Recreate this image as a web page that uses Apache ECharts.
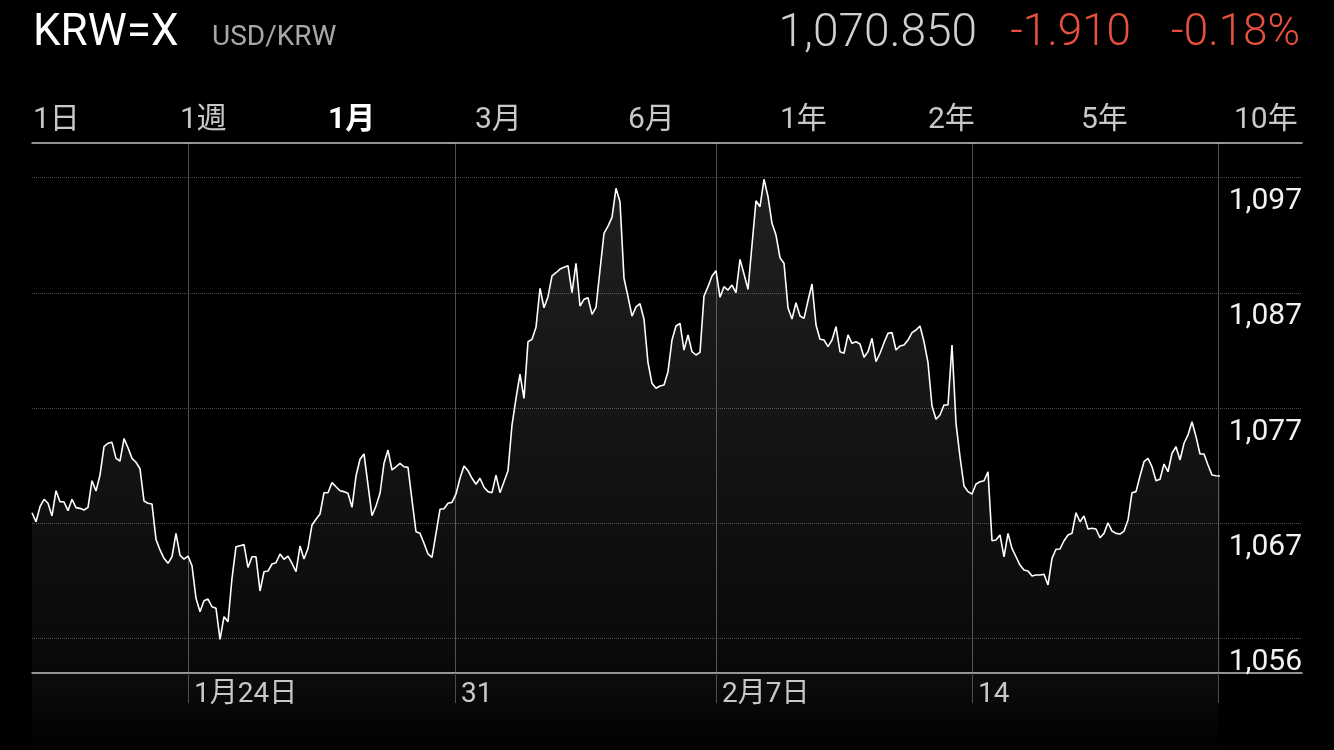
<!DOCTYPE html>
<html>
<head>
<meta charset="utf-8">
<title>KRW=X</title>
<script src="https://cdn.jsdelivr.net/npm/echarts@6/dist/echarts.min.js"></script>
<style>
  html, body { margin: 0; padding: 0; background: #000; }
  #chart { width: 1334px; height: 750px; }
</style>
</head>
<body>
<div id="chart"></div>
<script>
// USD/KRW, one month, a sample every few hours
const rates = [
  1067.91, 1067.13, 1068.43, 1069.08, 1068.73, 1067.63, 1069.82, 1068.87, 1068.84, 1068.09,
  1069.08, 1068.35, 1068.29, 1068.15, 1068.38, 1070.69, 1069.80, 1071.18, 1073.64, 1073.94,
  1074.02, 1072.63, 1072.40, 1074.34, 1073.55, 1072.63, 1072.29, 1071.73, 1068.93, 1068.73,
  1068.67, 1065.60, 1064.68, 1063.95, 1063.52, 1064.09, 1066.12, 1064.22, 1063.89, 1064.15,
  1063.31, 1060.48, 1059.32, 1060.27, 1060.42, 1059.75, 1059.62, 1056.92, 1058.89, 1058.45,
  1062.22, 1064.96, 1065.05, 1065.14, 1063.17, 1064.09, 1064.09, 1061.12, 1062.79, 1062.85,
  1063.46, 1063.57, 1064.33, 1063.87, 1064.15, 1063.52, 1062.79, 1065.02, 1063.89, 1064.82,
  1066.85, 1067.34, 1067.80, 1069.65, 1069.65, 1070.52, 1070.17, 1069.82, 1069.74, 1069.60,
  1068.38, 1071.10, 1072.55, 1073.01, 1070.32, 1067.65, 1068.49, 1069.60, 1072.20, 1073.35,
  1071.62, 1071.90, 1072.20, 1071.90, 1071.85, 1069.01, 1066.26, 1066.12, 1065.26, 1064.33,
  1064.04, 1066.12, 1068.21, 1068.26, 1068.73, 1068.81, 1069.54, 1070.90, 1071.97, 1071.56,
  1070.90, 1070.38, 1070.90, 1070.12, 1069.74, 1069.65, 1071.18, 1069.65, 1070.60, 1071.56,
  1075.52, 1077.84, 1079.95, 1077.84, 1082.75, 1082.96, 1084.00, 1087.39, 1085.70, 1086.66,
  1088.46, 1088.74, 1089.06, 1089.21, 1089.35, 1087.01, 1089.56, 1085.85, 1086.43, 1086.57,
  1085.13, 1085.74, 1088.98, 1092.16, 1092.79, 1093.55, 1096.07, 1094.90, 1088.26, 1086.66,
  1084.98, 1085.77, 1086.05, 1084.70, 1080.93, 1079.14, 1078.71, 1078.91, 1079.00, 1080.15,
  1082.90, 1084.12, 1084.35, 1082.03, 1083.34, 1081.89, 1081.60, 1081.83, 1086.72, 1087.53,
  1088.46, 1088.92, 1086.61, 1087.53, 1087.24, 1087.67, 1087.01, 1089.90, 1088.63, 1087.30,
  1091.15, 1094.99, 1094.47, 1096.85, 1095.34, 1093.03, 1092.01, 1090.04, 1089.56, 1085.70,
  1084.72, 1086.14, 1084.98, 1084.78, 1086.31, 1087.76, 1084.20, 1082.96, 1082.90, 1082.32,
  1082.90, 1084.06, 1081.89, 1081.75, 1083.34, 1082.61, 1082.75, 1082.55, 1081.40, 1081.89,
  1083.05, 1081.02, 1081.75, 1082.67, 1083.48, 1083.54, 1082.03, 1082.38, 1082.47, 1082.90,
  1083.54, 1083.77, 1084.12, 1082.75, 1080.93, 1077.17, 1076.02, 1076.39, 1077.26, 1077.26,
  1082.47, 1075.67, 1072.77, 1070.23, 1069.74, 1069.54, 1070.40, 1070.60, 1070.69, 1071.47,
  1065.48, 1065.54, 1065.98, 1064.09, 1066.12, 1064.82, 1064.09, 1063.37, 1062.94, 1062.85,
  1062.42, 1062.51, 1062.51, 1062.57, 1061.64, 1063.95, 1064.74, 1064.76, 1065.48, 1065.98,
  1066.12, 1067.91, 1067.13, 1067.63, 1066.50, 1066.56, 1066.50, 1065.74, 1066.12, 1067.04,
  1066.32, 1066.12, 1066.06, 1066.32, 1067.28, 1069.65, 1069.74, 1071.10, 1072.34, 1072.63,
  1071.90, 1070.69, 1070.81, 1072.14, 1071.47, 1073.07, 1073.64, 1072.49, 1073.94, 1074.66,
  1075.81, 1074.51, 1073.01, 1073.01, 1072.05, 1071.18, 1071.12, 1071.10
]

// week boundaries, in sample index units
const weekTicks = [39, 105.75, 171, 235, 296.5]
const weekLabels = ['1月24日', '31', '2月7日', '14', '']

const priceTicks = [1057, 1067, 1077, 1087, 1097]
const priceLabels = ['1,056', '1,067', '1,077', '1,087', '1,097']

const ranges = ['1日', '1週', '1月', '3月', '6月', '1年', '2年', '5年', '10年']
const activeRange = '1月'

const quote = { symbol: 'KRW=X', name: 'USD/KRW', last: '1,070.850', change: '-1.910', pct: '-0.18%' }

const FONT = 'Roboto, "Noto Sans CJK JP", sans-serif'
const X_MAX = 317.5
const Y_MIN = 1054
const Y_MAX = 1100

const chart = echarts.init(document.getElementById('chart'))

const tabX = [33, 180, 328, 475, 628, 780, 928, 1081, 1234]

const headerGraphics = [
  { id: 'sym', type: 'text', left: 33, top: 12,
    style: { text: quote.symbol, fill: '#fff', font: '44px ' + FONT } },
  { id: 'name', type: 'text', left: 212, top: 24,
    style: { text: quote.name, fill: '#a8a8a8', font: '28px ' + FONT } },
  { id: 'last', type: 'text', right: 1334 - 977, top: 11,
    style: { text: quote.last, fill: '#cfcfcf', font: '300 46px ' + FONT } },
  { id: 'chg', type: 'text', right: 1334 - 1131, top: 12,
    style: { text: quote.change, fill: '#e8503e', font: '300 44px ' + FONT } },
  { id: 'pct', type: 'text', right: 1334 - 1300, top: 12,
    style: { text: quote.pct, fill: '#e8503e', font: '300 44px ' + FONT } },
].concat(ranges.map((r, i) => ({
  id: 'tab' + i, type: 'text', left: tabX[i], top: 106,
  style: {
    text: r,
    fill: r === activeRange ? '#fff' : '#c8c8c8',
    font: (r === activeRange ? 'bold ' : '') + '30px ' + FONT
  }
})))

chart.setOption({
  backgroundColor: '#000',
  animation: false,
  textStyle: { fontFamily: FONT },
  grid: { left: 32, right: 32, top: 143, bottom: 77 },
  xAxis: [
    {
      type: 'value', min: 0, max: X_MAX, position: 'bottom',
      axisLine: { lineStyle: { color: '#c4c4c4', width: 1.5 } },
      axisTick: { customValues: weekTicks, length: 30, lineStyle: { color: '#4d4d4d' } },
      axisLabel: {
        customValues: weekTicks.slice(0, 4),
        formatter: v => weekLabels[weekTicks.indexOf(v)],
        align: 'left', verticalAlign: 'top', margin: 8,
        padding: [0, 0, 0, 6], lineHeight: 28,
        color: '#c8c8c8', fontSize: 28
      },
      splitLine: { show: true, lineStyle: { color: '#4d4d4d', width: 1 } }
    },
    {
      type: 'value', min: 0, max: X_MAX, position: 'top',
      axisLine: { show: true, lineStyle: { color: '#c4c4c4', width: 1.5 } },
      axisTick: { show: false }, axisLabel: { show: false }, splitLine: { show: false }
    }
  ],
  yAxis: {
    type: 'value', min: Y_MIN, max: Y_MAX, position: 'right',
    axisLine: { show: false },
    axisTick: { show: false, customValues: priceTicks },
    axisLabel: {
      inside: true, margin: 0,
      customValues: priceTicks,
      formatter: v => priceLabels[priceTicks.indexOf(v)],
      verticalAlign: 'top', lineHeight: 30, padding: [9, 0, 0, 0],
      color: '#f2f2f2', fontSize: 30
    },
    splitLine: { show: true, lineStyle: { type: 'dotted', color: '#4a4a4a', width: 1 } }
  },
  series: [{
    type: 'line',
    data: rates.map((v, i) => [i, v]),
    showSymbol: false,
    lineStyle: { color: '#fff', width: 1.6 },
    areaStyle: {
      origin: 'start',
      color: new echarts.graphic.LinearGradient(0, 0, 0, 1, [
        { offset: 0, color: 'rgba(255,255,255,0.18)' },
        { offset: 1, color: 'rgba(255,255,255,0.05)' }
      ])
    },
    z: 3
  }],
  graphic: headerGraphics
})

// faint fill continuing under the baseline, as far as the data goes
const p0 = chart.convertToPixel({ gridIndex: 0 }, [0, Y_MIN])
const p1 = chart.convertToPixel({ gridIndex: 0 }, [weekTicks[weekTicks.length - 1], Y_MIN])
chart.setOption({
  graphic: headerGraphics.concat([{
    id: 'under', type: 'rect', z: -1,
    shape: { x: p0[0], y: p0[1] + 1, width: p1[0] - p0[0], height: 750 - p0[1] },
    style: {
      fill: new echarts.graphic.LinearGradient(0, 0, 0, 1, [
        { offset: 0, color: 'rgba(255,255,255,0.05)' },
        { offset: 1, color: 'rgba(255,255,255,0.0)' }
      ])
    }
  }])
})
</script>
</body>
</html>
